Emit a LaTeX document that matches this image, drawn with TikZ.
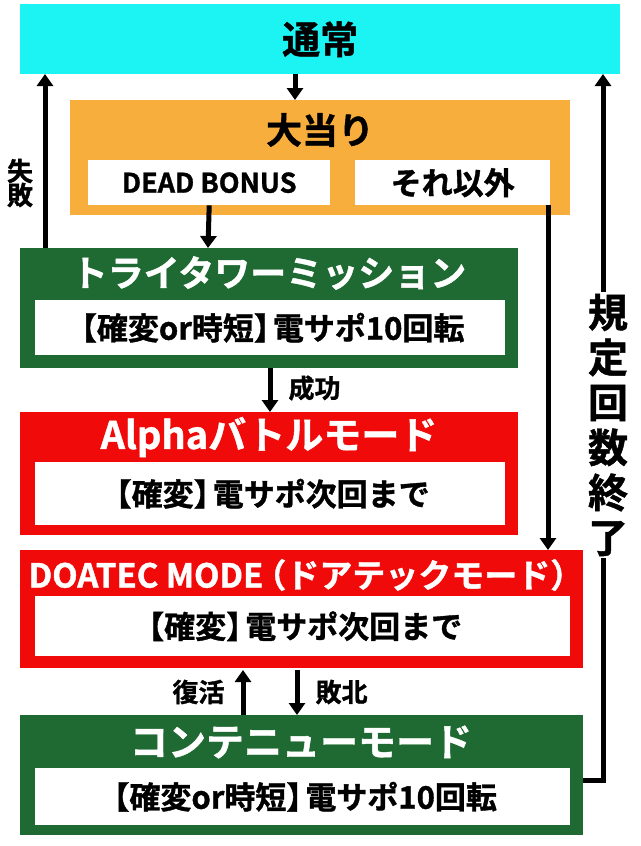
\documentclass[tikz,border=0pt]{standalone}
\usepackage{fontspec}
\setmainfont{Noto Sans CJK JP}[BoldFont={Noto Sans CJK JP Bold},BoldFeatures={FakeBold=1.2}]
\usetikzlibrary{arrows.meta}
\definecolor{cy}{HTML}{1CF4F4}
\definecolor{og}{HTML}{F7AE3C}
\definecolor{gr}{HTML}{1E6A32}
\definecolor{rd}{HTML}{F00A0A}
\tikzset{
 box/.style={anchor=north west,inner sep=0},
 wbox/.style={fill=white,anchor=north west,inner sep=0},
 ttl/.style={font=\bfseries\fontsize{36}{38}\selectfont,text=white},
 itx/.style={font=\bfseries\fontsize{31}{33}\selectfont},
 arr/.style={line width=5pt,-{Triangle[length=12pt,width=16pt]}},
 lbl/.style={font=\bfseries\fontsize{26}{28}\selectfont}
}
\begin{document}
\begin{tikzpicture}[x=1pt,y=-1pt]
\useasboundingbox (0,0) rectangle (640,846);
\fill[white] (0,0) rectangle (640,846);
% top
\node[box,fill=cy,minimum width=600,minimum height=70] (top) at (20,4) {};
\node[font=\bfseries\fontsize{38}{40}\selectfont] at (top.center) {通常};
% orange
\node[box,fill=og,minimum width=500,minimum height=115] (ora) at (70,100) {};
\node[font=\bfseries\fontsize{36}{38}\selectfont] at (320,130) {大当り};
\node[wbox,minimum width=242,minimum height=45] (dead) at (88,160) {};
\node[itx,font=\bfseries\fontsize{27}{29}\selectfont] at (dead.center) {DEAD BONUS};
\node[wbox,minimum width=195,minimum height=45] (other) at (355,160) {};
\node[itx] at (other.center) {それ以外};
% green 1
\node[box,fill=gr,minimum width=498,minimum height=120] (g1) at (20,248) {};
\node[ttl] at (269,273) {トライタワーミッション};
\node[wbox,minimum width=470,minimum height=55] (g1i) at (35,300) {};
\node[itx] at (g1i.center) {\kern-10pt【確変or時短】\kern-12pt電サポ10回転};
% red 1
\node[box,fill=rd,minimum width=498,minimum height=123] (r1) at (20,412) {};
\node[ttl,font=\bfseries\fontsize{38}{40}\selectfont] at (269,437) {Alphaバトルモード};
\node[wbox,minimum width=470,minimum height=63] (r1i) at (35,462) {};
\node[itx] at (r1i.center) {\kern-10pt【確変】\kern-12pt電サポ次回まで};
% red 2
\node[box,fill=rd,minimum width=563,minimum height=118] (r2) at (20,550) {};
\node[ttl,font=\bfseries\fontsize{33}{35}\selectfont] at (301,575) {DOATEC MODE\kern-10pt（ドアテックモード）\kern-10pt};
\node[wbox,minimum width=535,minimum height=60] (r2i) at (35,596) {};
\node[itx] at (r2i.center) {\kern-10pt【確変】\kern-12pt電サポ次回まで};
% green 2
\node[box,fill=gr,minimum width=563,minimum height=120] (g2) at (20,715) {};
\node[ttl,font=\bfseries\fontsize{38}{40}\selectfont] at (301,742) {コンテニューモード};
\node[wbox,minimum width=535,minimum height=57] (g2i) at (35,768) {};
\node[itx] at (g2i.center) {\kern-10pt【確変or時短】\kern-12pt電サポ10回転};
% arrows
\draw[arr] (295,74) -- (ora.north -| 295,0);
\draw[arr] (dead.south) -- (208,248);
\draw[arr] (45,248) -- (45,74);
\node[lbl,align=center,font=\bfseries\fontsize{26}{28}\selectfont] at (20,183) {失\\[-4pt]敗};
\draw[arr] (270,368) -- (270,412);
\node[lbl,anchor=west] at (285,388) {成功};
\draw[arr] (548,205) -- (548,550);
\draw[arr] (243,715) -- (243,670);
\node[lbl,anchor=east] at (228,692) {復活};
\draw[arr] (297,670) -- (297,715);
\node[lbl,anchor=west] at (312,692) {敗北};
\coordinate (rc) at (583,780);
\draw[line width=5pt,-{Triangle[length=12pt,width=16pt]}] (rc) -- (603,780) -- (603,74);
\node[fill=white,inner sep=2pt,align=center,font=\bfseries\fontsize{40}{45}\selectfont] at (608,425) {規\\定\\回\\数\\終\\了};
\end{tikzpicture}
\end{document}
